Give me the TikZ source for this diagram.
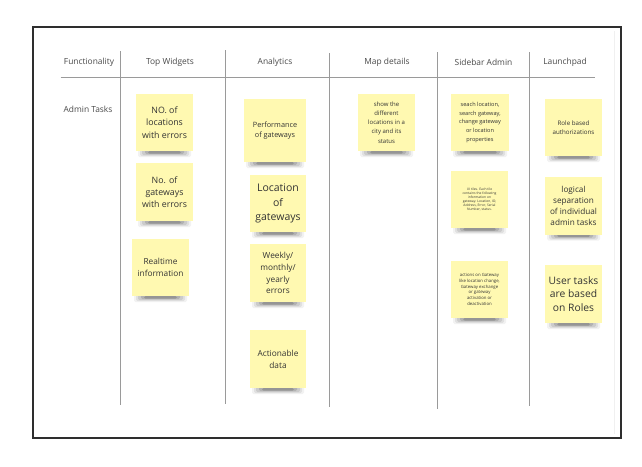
\documentclass[tikz,border=0pt]{standalone}
\usepackage{fontspec}
\setmainfont{Open Sans}
\definecolor{stickyc}{HTML}{FFF9B1}
\definecolor{txtc}{HTML}{333333}
\definecolor{hdrc}{HTML}{4A4A4A}
\definecolor{rulec}{HTML}{9A9A9A}
\definecolor{framec}{HTML}{2E2E2E}
\tikzset{
  framebox/.style={draw=framec, line width=1.1pt},
  colrule/.style={draw=rulec, line width=1pt},
  hdr/.style={text=hdrc, inner sep=0pt, font=\fontsize{8.4}{10}\selectfont},
  sticky/.style={fill=stickyc, minimum width=57pt, minimum height=57pt, inner sep=0pt, align=center, text=txtc},
  shadowlayer/.style={fill=black, opacity=#1, rounded corners=1.5pt},
}
\begin{document}
\begin{tikzpicture}[x=1pt,y=-1pt]
\useasboundingbox (0,0) rectangle (642,466);
\fill[white] (0,0) rectangle (642,466);
% frame
\draw[framebox] (33,27) rectangle (621,438);
\draw[draw=gray!12, line width=0.8pt] (614,31) -- (614,434);
% header labels
\node[hdr] (hfun) at (89,62) {Functionality};
\node[hdr] (htop) at (170,62) {Top Widgets};
\node[hdr] (hana) at (275,62) {Analytics};
\node[hdr] (hmap) at (387,62) {Map details};
\node[hdr] (hside) at (483.5,62) {Sidebar Admin};
\node[hdr] (hlaunch) at (565,62) {Launchpad};
\node[hdr] (admin) at (88,109) {Admin Tasks};
% rules
\draw[colrule] (60.5,77) -- (595,77);
\draw[colrule] (120.6,51) -- (120.6,405);
\draw[colrule] (225.7,50) -- (225.7,404);
\draw[colrule] (329.5,53) -- (329.5,407);
\draw[colrule] (437,52) -- (437,409);
\draw[colrule] (529,52) -- (529,406);
% shadows under notes (drawn first, notes cover their tops)
\foreach \cx/\cy/\w in {164.5/151/57, 164.5/221/57, 160.5/296/57, 275/162/62, 278/232/56, 278/302/56, 278/388/56, 386.5/151/57, 480/151/58, 479.5/228/57, 479.5/318/57, 573.5/156/57, 573.5/234.5/57, 573.5/323/57}{
  \fill[shadowlayer=0.05] (\cx-\w/2+2,\cy-2) rectangle (\cx+\w/2-2,\cy+6);
  \fill[shadowlayer=0.07] (\cx-\w/2+4,\cy-2) rectangle (\cx+\w/2-4,\cy+5);
  \fill[shadowlayer=0.09] (\cx-\w/2+6,\cy-2) rectangle (\cx+\w/2-6,\cy+4);
  \fill[shadowlayer=0.12] (\cx-\w/2+9,\cy-2) rectangle (\cx+\w/2-9,\cy+3.2);
  \fill[shadowlayer=0.16] (\cx-\w/2+12,\cy) rectangle (\cx+\w/2-12,\cy+2.5);
}
% sticky notes
\node[sticky, font=\fontsize{8.8}{12.3}\selectfont] (n1) at (164.5,122.5) {NO. of\\locations\\with errors};
\node[sticky, minimum height=58pt, font=\fontsize{8.8}{12.3}\selectfont] (n2) at (164.5,192) {No. of\\gateways\\with errors};
\node[sticky, font=\fontsize{8.3}{12.2}\selectfont] (n3) at (160.5,267.5) {Realtime\\information};
\node[sticky, minimum width=62pt, minimum height=63pt, font=\fontsize{7.3}{10.8}\selectfont] (n4) at (275,130.5) {Performance\\of gateways};
\node[sticky, minimum width=56pt, font=\fontsize{10.5}{14.6}\selectfont] (n5) at (278,203.5) {Location\\of\\gateways};
\node[sticky, minimum width=56pt, minimum height=58pt, font=\fontsize{8.3}{11.8}\selectfont] (n6) at (278,273) {Weekly/\\monthly/\\yearly\\errors};
\node[sticky, minimum width=56pt, minimum height=58pt, font=\fontsize{8.3}{12}\selectfont] (n7) at (278,359) {Actionable\\data};
\node[sticky, font=\fontsize{6}{9.2}\selectfont] (n8) at (386.5,122.5) {show the\\different\\locations in a\\city and its\\status};
\node[sticky, minimum width=58pt, font=\fontsize{5.6}{8.8}\selectfont] (n9) at (480,122.5) {seach location,\\search gateway,\\change gateway\\or location\\properties};
\node[sticky, font=\fontsize{3.3}{4.1}\selectfont] (n10) at (479.5,199.5) {UI tiles. Each tile\\contains the following\\information on\\gateway. Location, ID,\\Address, Error, Serial\\Number, status.};
\node[sticky, font=\fontsize{4.3}{5.7}\selectfont] (n11) at (479.5,289.5) {actions on Gateway\\like location change,\\Gateway exchange\\or gateway\\activation or\\deactivation};
\node[sticky, font=\fontsize{6.2}{9.2}\selectfont] (n12) at (573.5,127.5) {Role based\\authorizations};
\node[sticky, minimum height=58pt, font=\fontsize{8.2}{11}\selectfont] (n13) at (573.5,205.5) {logical\\separation\\of individual\\admin tasks};
\node[sticky, minimum height=58pt, font=\fontsize{10.3}{13.6}\selectfont] (n14) at (573.5,294) {User tasks\\are based\\on Roles};
\end{tikzpicture}
\end{document}
